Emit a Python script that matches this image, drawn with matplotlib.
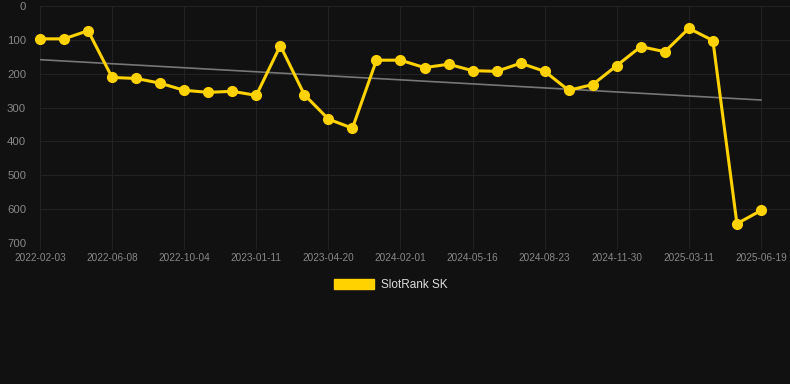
import numpy as np
from matplotlib import pyplot as plt
from matplotlib.patches import Patch

plt.rcParams['font.family'] = ['Liberation Sans', 'DejaVu Sans']

dates = ["2022-02-03", "", "", "2022-06-08", "", "", "2022-10-04", "", "",
         "2023-01-11", "", "", "2023-04-20", "", "", "2024-02-01", "", "",
         "2024-05-16", "", "", "2024-08-23", "", "", "2024-11-30", "", "",
         "2025-03-11", "", "", "2025-06-19"]
ranks = [97, 97, 73, 211, 214, 228, 249, 255, 252, 264, 117, 262, 334, 361,
         160, 160, 182, 172, 191, 193, 169, 193, 249, 232, 176, 120, 135, 66,
         102, 643, 604]

BG = "#111111"
YELLOW = "#ffd200"

x = np.arange(len(ranks))
# simple linear trend over the series
slope, intercept = np.polyfit(x, ranks, 1)
trend = slope * x + intercept

fig = plt.figure(figsize=(7.9, 3.84), dpi=100, facecolor=BG)
ax = fig.add_axes([40 / 790, 1 - 243 / 384, 750 / 790, 237 / 384], facecolor=BG)

ax.plot(x, trend, color="#777777", linewidth=1.2, zorder=2)
ax.plot(x, ranks, color=YELLOW, linewidth=2.2, marker="o", markersize=7,
        zorder=3, clip_on=False)

ax.set_xlim(0, 30 + 29 / 24)
ax.set_ylim(700, 0)
ax.set_yticks(range(0, 701, 100))
tick_idx = [i for i, d in enumerate(dates) if d]
ax.set_xticks(tick_idx)
ax.set_xticklabels([dates[i] for i in tick_idx])

ax.grid(True, color="#222222", linewidth=0.8)
ax.set_axisbelow(True)
for s in ax.spines.values():
    s.set_visible(False)
ax.tick_params(axis="both", colors="#222222", labelcolor="#888888", length=4)
ax.tick_params(axis="y", length=0, pad=10, labelsize=8.2)
ax.tick_params(axis="x", pad=3, labelsize=7.2)

fig.legend(handles=[Patch(color=YELLOW)], labels=["SlotRank SK"],
           loc="center", bbox_to_anchor=(391 / 790, 1 - 285 / 384),
           frameon=False, labelcolor="#dddddd", fontsize=8.5,
           handlelength=3.4, handleheight=1.0, handletextpad=0.6)

fig.savefig("out.png", dpi=100, facecolor=BG)
